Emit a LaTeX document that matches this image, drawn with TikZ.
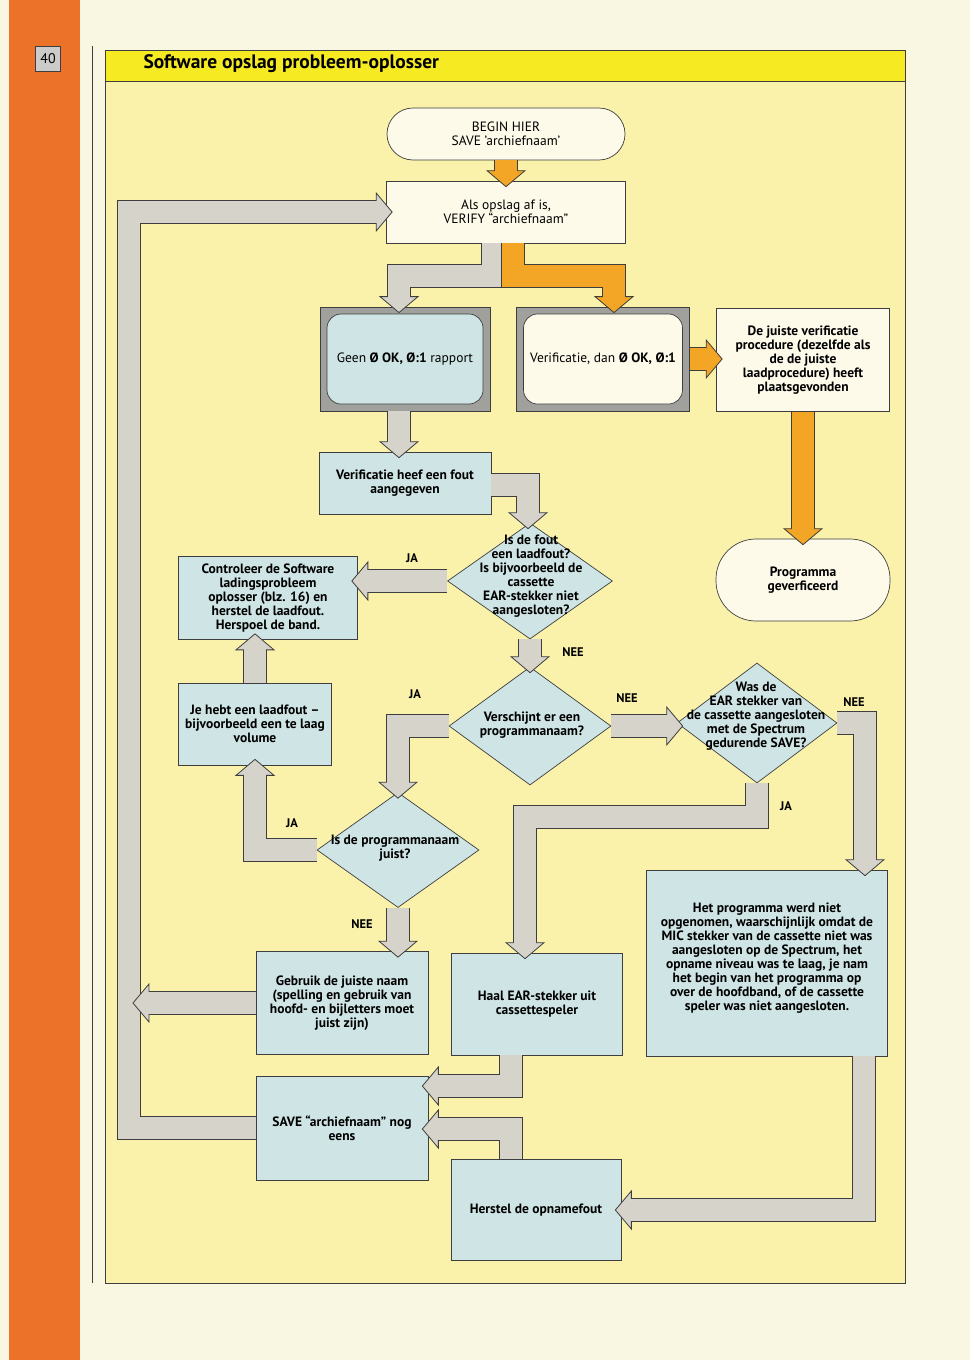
\documentclass[tikz,border=0pt]{standalone}
\usepackage{fontspec}
\setmainfont{PT Sans}
\usetikzlibrary{shapes.geometric, calc}

\definecolor{pagina}{RGB}{249,246,226}
\definecolor{rand}{RGB}{236,114,42}
\definecolor{vlak}{RGB}{250,242,170}
\definecolor{titelgeel}{RGB}{246,234,34}
\definecolor{roomwit}{RGB}{253,250,234}
\definecolor{lichtblauw}{RGB}{207,228,228}
\definecolor{grijspijl}{RGB}{214,211,203}
\definecolor{oranjepijl}{RGB}{243,166,38}
\definecolor{tvgrijs}{RGB}{160,160,157}
\definecolor{lijn}{RGB}{62,62,62}

% dikke blokpijl: kleur, pad tot aan het eind, eindpunt, richting (graden)
\newcommand{\fatarrow}[4]{%
  \draw[line width=24pt, draw=lijn, shorten >=9pt] #2 #3;
  \draw[draw=lijn, fill=#1, line width=0.8pt, shift={#3}, rotate=#4]
    (6,0) -- (-10,19) -- (-10,-19) -- cycle;
  \draw[line width=22pt, draw=#1, shorten >=7pt] #2 #3;
}

\begin{document}
\begin{tikzpicture}[
x=1pt, y=-1pt,
normaal/.style={font=\fontsize{13.5}{14}\selectfont},
vet/.style={font=\bfseries\fontsize{13.5}{14}\selectfont},
maat/.style 2 args={minimum width=#1pt, minimum height=#2pt},
blok/.style={rectangle, draw=lijn, line width=0.7pt, fill=#1, inner sep=2pt, align=center, vet},
blok/.default=lichtblauw,
eindpunt/.style={blok=roomwit, rounded corners=26pt, normaal},
tvkast/.style={rectangle, draw=lijn, line width=0.8pt, fill=tvgrijs, inner sep=0pt},
scherm/.style={blok=#1, rounded corners=14pt, normaal},
keuze/.style={diamond, draw=lijn, line width=0.7pt, fill=lichtblauw, inner sep=0pt},
keuzetekst/.style={align=center, vet, inner sep=0pt},
antwoord/.style={font=\bfseries\fontsize{12.5}{13}\selectfont, inner sep=0pt}
]
\useasboundingbox (0,0) rectangle (970,1360);

% --- Pagina en kader ---
\fill[pagina] (0,0) rectangle (970,1360);
\fill[rand] (9,0) rectangle (80,1360);
\node[draw=lijn, line width=0.9pt, fill=tvgrijs!55, minimum size=25pt, inner sep=0pt, font=\fontsize{14}{14}\selectfont] (paginanr) at (48,59) {40};
\draw[lijn, line width=0.8pt] (92,46) -- (92,1283);
\draw[lijn, line width=0.9pt, fill=vlak] (105,50) rectangle (905,1283);
\draw[lijn, line width=0.9pt, fill=titelgeel] (105,50) rectangle (905,81);
\node[anchor=west, font=\bfseries\fontsize{19.5}{21}\selectfont] (titel) at (140,64) {Software opslag probleem-oplosser};

% --- Begin en verificatie ---
\node[eindpunt, maat={238}{52}] (begin) at (506,134) {BEGIN HIER\\SAVE 'archiefnaam'};
\node[blok=roomwit, normaal, maat={239}{62}] (verify) at (506,212) {Als opslag af is,\\VERIFY ``archiefnaam''};

\node[tvkast, maat={170}{104}] (geenframe) at (405,359) {};
\node[scherm=lichtblauw, maat={156}{90}] (geen) at (geenframe) {Geen \textbf{Ø OK, Ø:1} rapport};
\node[tvkast, maat={173}{104}] (dankframe) at (603,359) {};
\node[scherm=roomwit, maat={159}{90}] (dank) at (dankframe) {Verificatie, dan \textbf{Ø OK, Ø:1}};

\node[blok=roomwit, maat={173}{103}] (juist) at (803,360) {De juiste verificatie\\procedure (dezelfde als\\de de juiste\\laadprocedure) heeft\\plaatsgevonden};
\node[blok=roomwit, rounded corners=40pt, maat={174}{82}] (klaar) at (803,580) {Programma\\geverficeerd};

% --- Foutzoeken ---
\node[blok, maat={172}{62}] (fout) at (405,483) {Verificatie heef een fout\\aangegeven};
\node[keuze, maat={165}{116}] (laadvraag) at (530,581) {};
\node[keuzetekst] (laadtekst) at (531,576) {Is de fout\\een laadfout?\\Is bijvoorbeeld de\\cassette\\EAR-stekker niet\\aangesloten?};
\node[blok, maat={179}{83}] (controleer) at (268,598) {Controleer de Software\\ladingsprobleem\\oplosser (blz. 16) en\\herstel de laadfout.\\Herspoel de band.};

\node[keuze, maat={162}{118}] (naamvraag) at (530,726) {};
\node[keuzetekst] (naamtekst) at (532,725) {Verschijnt er een\\programmanaam?};
\node[keuze, maat={160}{120}] (earvraag) at (757,723) {};
\node[keuzetekst] (eartekst) at (756,716) {Was de\\EAR stekker van\\de cassette aangesloten\\met de Spectrum\\gedurende SAVE?};
\node[blok, maat={153}{82}] (laadfout) at (255,724) {Je hebt een laadfout --\\bijvoorbeeld een te laag\\volume};

\node[keuze, maat={162}{115}] (juistvraag) at (398,850) {};
\node[keuzetekst] (juisttekst) at (395,848) {Is de programmanaam\\juist?};

% --- Herstel ---
\node[blok, maat={172}{103}] (gebruik) at (342,1003) {Gebruik de juiste naam\\(spelling en gebruik van\\hoofd- en bijletters moet\\juist zijn)};
\node[blok, maat={171}{102}] (haal) at (537,1004) {Haal EAR-stekker uit\\cassettespeler};
\node[blok, maat={241}{186}] (mic) at (767,963) {Het programma werd niet\\opgenomen, waarschijnlijk omdat de\\MIC stekker van de cassette niet was\\aangesloten op de Spectrum, het\\opname niveau was te laag, je nam\\het begin van het programma op\\over de hoofdband, of de cassette\\speler was niet aangesloten.\\[-1pt]};
\node[blok, maat={172}{104}] (opnieuw) at (342,1128) {SAVE ``archiefnaam'' nog\\eens};
\node[blok, maat={170}{101}] (herstel) at (536,1210) {Herstel de opnamefout};

\coordinate (lus) at (129,0);
\coordinate (lusrand) at (139,0);

% --- Pijlen ---
\fatarrow{oranjepijl}{(begin.south) --}{(verify.north)}{270}
\fatarrow{grijspijl}{([xshift=-13pt]verify.south) -- ++(0,33) -|}{([xshift=-6pt]geenframe.north)}{270}
\fatarrow{oranjepijl}{([xshift=7pt]verify.south) -- ++(0,33) -|}{([xshift=11pt]dankframe.north)}{270}
\fatarrow{oranjepijl}{(dankframe.east) --}{(dankframe.east -| juist.west)}{0}
\fatarrow{oranjepijl}{(juist.south) --}{(klaar.north)}{270}

\fatarrow{grijspijl}{([xshift=-6pt]geenframe.south) --}{([xshift=-6pt]fout.north)}{270}
\fatarrow{grijspijl}{([yshift=-2pt]fout.east) -|}{([xshift=-2pt]laadvraag.north)}{270}
\fatarrow{grijspijl}{(laadvraag.west) --}{(laadvraag.west -| controleer.east)}{180}
\fatarrow{grijspijl}{(laadvraag.south) --}{(naamvraag.north)}{270}
\fatarrow{grijspijl}{(naamvraag.east) --}{(naamvraag.east -| earvraag.west)}{0}
\fatarrow{grijspijl}{(earvraag.east) -|}{([xshift=98pt]mic.north)}{270}
\fatarrow{grijspijl}{(earvraag.south) -- ++(0,34) -|}{([xshift=-12pt]haal.north)}{270}
\fatarrow{grijspijl}{(naamvraag.west) -|}{(juistvraag.north)}{270}
\fatarrow{grijspijl}{(juistvraag.west) -|}{(laadfout.south)}{90}
\fatarrow{grijspijl}{(laadfout.north) --}{(laadfout.north |- controleer.south)}{90}
\fatarrow{grijspijl}{(juistvraag.south) --}{(juistvraag.south |- gebruik.north)}{270}

\fatarrow{grijspijl}{(opnieuw.west) -| (lus |- verify.west) --}{(verify.west)}{0}
\fatarrow{grijspijl}{(gebruik.west) --}{(lusrand |- gebruik.west)}{180}
\fatarrow{grijspijl}{([xshift=-26pt]haal.south) |-}{($(opnieuw.east)+(0,-42)$)}{180}
\fatarrow{grijspijl}{([xshift=-25pt]herstel.north) |-}{($(opnieuw.east)+(0,1)$)}{180}
\fatarrow{grijspijl}{([xshift=97pt]mic.south) |-}{(herstel.east)}{180}

% --- JA / NEE ---
\node[antwoord] (ja1) at (412,558) {JA};
\node[antwoord] (nee1) at (573,652) {NEE};
\node[antwoord] (ja2) at (415,694) {JA};
\node[antwoord] (nee2) at (627,698) {NEE};
\node[antwoord] (nee3) at (854,702) {NEE};
\node[antwoord] (ja3) at (786,806) {JA};
\node[antwoord] (ja4) at (292,823) {JA};
\node[antwoord] (nee4) at (362,924) {NEE};

\end{tikzpicture}
\end{document}
